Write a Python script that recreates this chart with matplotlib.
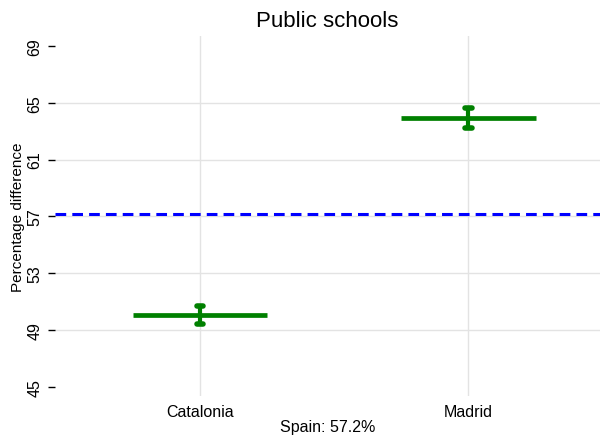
import numpy as np
import matplotlib
matplotlib.use("Agg")
import matplotlib.pyplot as plt

plt.rcParams['font.family'] = ['Liberation Sans', 'DejaVu Sans']

# ========== DATA ==========
regions = ["Catalonia", "Madrid"]
values = [50.05, 63.95]
errors = [0.65, 0.7]
spain_value = 57.2
yticks = [45, 49, 53, 57, 61, 65, 69]

# ========== PLOT ==========
fig = plt.figure(figsize=(6.0, 4.39), dpi=100)
ax = fig.add_axes([55 / 600, 42 / 439, 545 / 600, 360 / 439])

x = np.arange(len(regions))
vals = np.array(values)
errs = np.array(errors)
ax.vlines(x, vals - errs, vals + errs, colors='green', linewidth=3, zorder=3)
# caps with rounded ends
for sign in (-1, 1):
    ax.hlines(vals + sign * errs, x - 0.012, x + 0.012, colors='green',
              linewidth=4, capstyle='round', zorder=3)
ax.hlines(vals, x - 0.25, x + 0.25, colors='green', linewidth=3.4, zorder=3)
ax.axhline(spain_value, color='blue', linestyle=(0, (3.5, 2)), linewidth=2.2, zorder=4)

ax.set_xlim(-0.54, 1.49)
ax.set_ylim(44.35, 69.7)
ax.set_xticks(x)
ax.set_xticklabels(regions, fontsize=11.5)
ax.set_yticks(yticks)
ax.set_yticklabels([str(t) for t in yticks], rotation=90, va='center', fontsize=11.5)
ax.tick_params(axis='x', length=0, pad=6)
ax.tick_params(axis='y', length=5, width=1, pad=4)

ax.grid(True, color='#e3e3e3', linewidth=1)
ax.set_axisbelow(True)
# no gridlines at the outermost y ticks
gl = ax.get_ygridlines()
gl[0].set_visible(False)
gl[-1].set_visible(False)
for s in ax.spines.values():
    s.set_visible(False)

ax.set_title("Public schools", fontsize=16, pad=7)
ax.set_ylabel("Percentage difference", fontsize=11, labelpad=2)
ax.set_xlabel("Spain: 57.2%", fontsize=11.5, labelpad=0)

fig.savefig("out.png", dpi=100)
